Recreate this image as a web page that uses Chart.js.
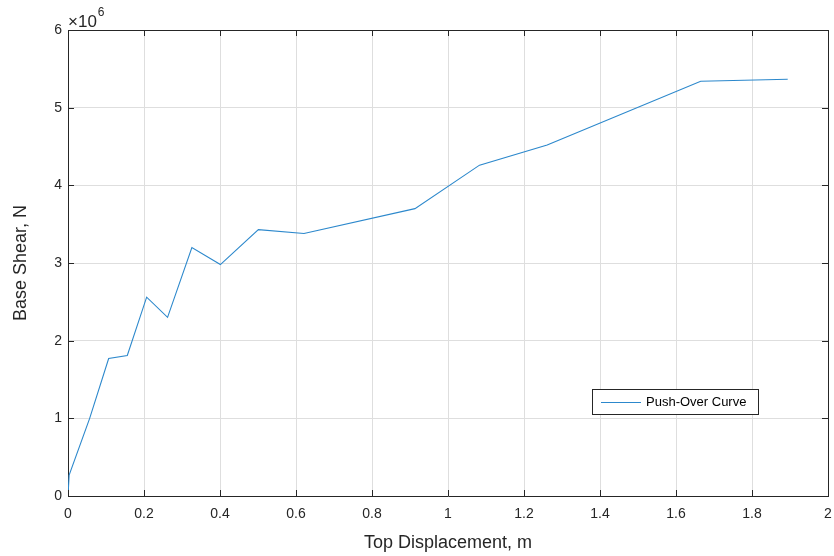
<!DOCTYPE html>
<html>
<head>
<meta charset="utf-8">
<script src="https://cdn.jsdelivr.net/npm/chart.js@4/dist/chart.umd.min.js"></script>
<style>
  html, body { margin: 0; padding: 0; background: #fff; }
  #wrap { width: 834px; height: 556px; }
</style>
</head>
<body>
<div id="wrap"><canvas id="pushover" width="834" height="556"></canvas></div>
<script>
// Push-over curve data
const topDisplacement = [0, 0.003, 0.057, 0.107, 0.156, 0.207, 0.262, 0.326, 0.401, 0.501, 0.621, 0.913, 1.083, 1.261, 1.665, 1.894];
const baseShear = [0, 0.27e6, 1.0e6, 1.77e6, 1.81e6, 2.56e6, 2.30e6, 3.20e6, 2.98e6, 3.43e6, 3.38e6, 3.70e6, 4.26e6, 4.52e6, 5.34e6, 5.365e6];
const seriesLabel = 'Push-Over Curve';
const xTicks = [0, 0.2, 0.4, 0.6, 0.8, 1, 1.2, 1.4, 1.6, 1.8, 2];
const yTicks = [0, 1e6, 2e6, 3e6, 4e6, 5e6, 6e6];

const axisColor = '#262626';
const gridColor = '#dedede';
const lineColor = '#2c88cc';
const fontFamily = '"Liberation Sans", Arial, Helvetica, sans-serif';

// MATLAB-style box, inward ticks, exponent and legend
const matlabAxes = {
    id: 'matlabAxes',
    afterDraw(chart) {
        const ctx = chart.ctx;
        const area = chart.chartArea;
        const xs = chart.scales.x;
        const ys = chart.scales.y;
        const tl = 6;

        ctx.save();
        ctx.strokeStyle = axisColor;
        ctx.lineWidth = 1;
        ctx.beginPath();
        // top and right edges of the box
        ctx.moveTo(area.left, area.top + 0.5);
        ctx.lineTo(area.right + 0.5, area.top + 0.5);
        ctx.lineTo(area.right + 0.5, area.bottom);
        // inward ticks
        xTicks.forEach(v => {
            const px = Math.round(xs.getPixelForValue(v)) + 0.5;
            ctx.moveTo(px, area.bottom);
            ctx.lineTo(px, area.bottom - tl);
            ctx.moveTo(px, area.top);
            ctx.lineTo(px, area.top + tl);
        });
        yTicks.forEach(v => {
            const py = Math.round(ys.getPixelForValue(v)) + 0.5;
            ctx.moveTo(area.left, py);
            ctx.lineTo(area.left + tl, py);
            ctx.moveTo(area.right, py);
            ctx.lineTo(area.right - tl, py);
        });
        ctx.stroke();

        // exponent label
        ctx.fillStyle = axisColor;
        ctx.textBaseline = 'alphabetic';
        ctx.textAlign = 'left';
        ctx.font = '17px ' + fontFamily;
        ctx.fillText('\u00d710', area.left, area.top - 3);
        const w = ctx.measureText('\u00d710').width;
        ctx.font = '12px ' + fontFamily;
        ctx.fillText('6', area.left + w + 1, area.top - 14);

        // legend box
        const lx = 592, ly = 389, lw = 166, lh = 25;
        ctx.fillStyle = '#fff';
        ctx.fillRect(lx, ly, lw, lh);
        ctx.strokeStyle = axisColor;
        ctx.strokeRect(lx + 0.5, ly + 0.5, lw, lh);
        ctx.strokeStyle = lineColor;
        ctx.beginPath();
        ctx.moveTo(lx + 9, ly + 13.5);
        ctx.lineTo(lx + 49, ly + 13.5);
        ctx.stroke();
        ctx.fillStyle = '#000';
        ctx.font = '13px ' + fontFamily;
        ctx.textBaseline = 'middle';
        ctx.fillText(seriesLabel, lx + 54, ly + 13.5);
        ctx.restore();
    }
};

const points = topDisplacement.map((x, i) => ({ x: x, y: baseShear[i] }));

const chart = new Chart(document.getElementById('pushover').getContext('2d'), {
    type: 'scatter',
    data: {
        datasets: [{
            label: seriesLabel,
            data: points,
            showLine: true,
            borderColor: lineColor,
            backgroundColor: lineColor,
            borderWidth: 1.1,
            pointRadius: 0,
            tension: 0
        }]
    },
    options: {
        responsive: false,
        animation: false,
        devicePixelRatio: 1,
        layout: { padding: { left: 0, top: 30, right: 6, bottom: 0 } },
        plugins: {
            legend: { display: false },
            tooltip: { enabled: false }
        },
        scales: {
            x: {
                type: 'linear',
                min: 0,
                max: 2,
                afterFit(scale) {
                    scale.height = 60;
                    scale.paddingLeft = 0;
                    scale.paddingRight = 0;
                },
                afterBuildTicks(scale) { scale.ticks = xTicks.map(v => ({ value: v })); },
                grid: { color: gridColor, drawTicks: false },
                border: { display: true, color: axisColor },
                ticks: {
                    color: axisColor,
                    padding: 10,
                    maxRotation: 0,
                    font: { family: fontFamily, size: 14 },
                    callback: v => String(Number(v.toFixed(1)))
                },
                title: {
                    display: true,
                    text: 'Top Displacement, m',
                    color: axisColor,
                    padding: { top: 0, bottom: 2 },
                    font: { family: fontFamily, size: 18 }
                }
            },
            y: {
                type: 'linear',
                min: 0,
                max: 6e6,
                afterFit(scale) {
                    scale.width = 68;
                    scale.paddingTop = 0;
                    scale.paddingBottom = 0;
                },
                afterBuildTicks(scale) { scale.ticks = yTicks.map(v => ({ value: v })); },
                grid: { color: gridColor, drawTicks: false },
                border: { display: true, color: axisColor },
                ticks: {
                    color: axisColor,
                    padding: 6,
                    font: { family: fontFamily, size: 14 },
                    callback: v => String(Math.round(v / 1e6))
                },
                title: {
                    display: true,
                    text: 'Base Shear, N',
                    color: axisColor,
                    padding: { top: 10, bottom: 0 },
                    font: { family: fontFamily, size: 18 }
                }
            }
        }
    },
    plugins: [matlabAxes]
});
</script>
</body>
</html>
